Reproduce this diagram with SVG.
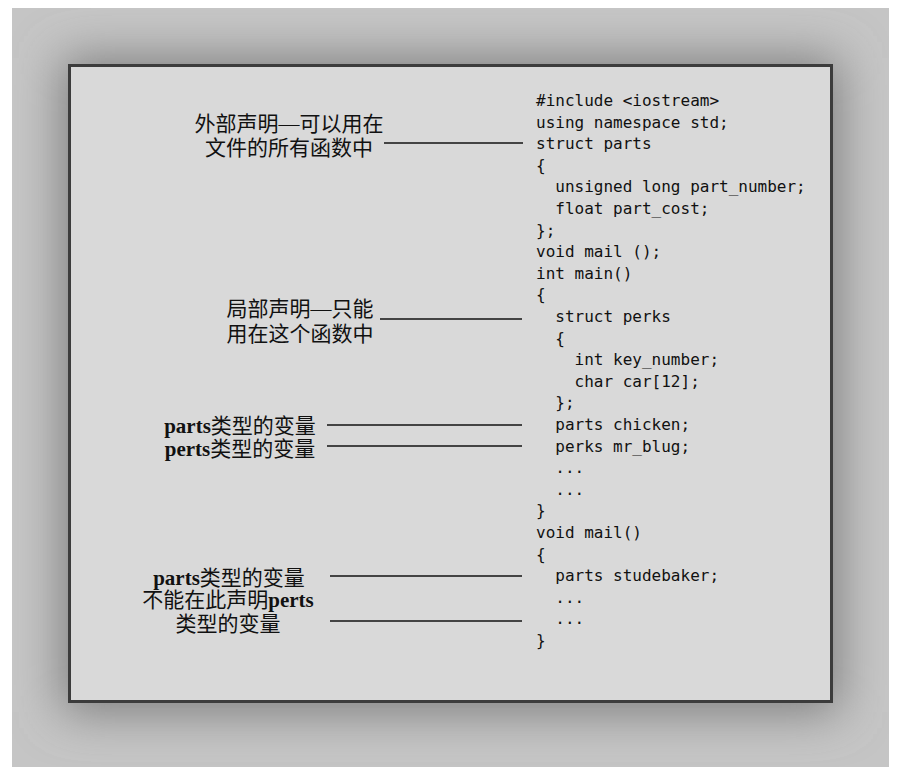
<svg xmlns="http://www.w3.org/2000/svg" width="904" height="778" viewBox="0 0 904 778">
<defs>
<filter id="blur" x="-20%" y="-20%" width="140%" height="140%">
<feGaussianBlur stdDeviation="24"/>
</filter>
<clipPath id="frameClip"><rect x="12" y="8" width="877" height="759"/></clipPath>
<style>
.code{font-family:"DejaVu Sans Mono","Liberation Mono",monospace;font-size:16px;fill:#111;white-space:pre}
.lbl{font-family:"Liberation Serif","Noto Sans CJK SC",serif;font-size:21px;fill:#111;text-anchor:middle}
.lat{font-weight:bold}
.conn{stroke:#444;stroke-width:2;fill:none}
</style>
</defs>
<rect x="0" y="0" width="904" height="778" fill="#ffffff"/>
<g id="frame">
<rect x="12" y="8" width="877" height="759" fill="#c5c5c5"/>
<g clip-path="url(#frameClip)">
<rect x="62" y="58" width="777" height="654" fill="#7e7e7e" filter="url(#blur)"/>
</g>
<rect x="69.5" y="65.5" width="762" height="636" fill="#d9d9d9" stroke="#3c3c3c" stroke-width="3"/>
</g>
<g id="code">
<text class="code" x="536" y="106">#include &lt;iostream&gt;</text>
<text class="code" x="536" y="127.6">using namespace std;</text>
<text class="code" x="536" y="149.2">struct parts</text>
<text class="code" x="536" y="170.8">{</text>
<text class="code" x="536" y="192.4">  unsigned long part_number;</text>
<text class="code" x="536" y="214">  float part_cost;</text>
<text class="code" x="536" y="235.6">};</text>
<text class="code" x="536" y="257.2">void mail ();</text>
<text class="code" x="536" y="278.8">int main()</text>
<text class="code" x="536" y="300.4">{</text>
<text class="code" x="536" y="322">  struct perks</text>
<text class="code" x="536" y="343.6">  {</text>
<text class="code" x="536" y="365.2">    int key_number;</text>
<text class="code" x="536" y="386.8">    char car[12];</text>
<text class="code" x="536" y="408.4">  };</text>
<text class="code" x="536" y="430">  parts chicken;</text>
<text class="code" x="536" y="451.6">  perks mr_blug;</text>
<text class="code" x="536" y="473.2">  ...</text>
<text class="code" x="536" y="494.8">  ...</text>
<text class="code" x="536" y="516.4">}</text>
<text class="code" x="536" y="538">void mail()</text>
<text class="code" x="536" y="559.6">{</text>
<text class="code" x="536" y="581.2">  parts studebaker;</text>
<text class="code" x="536" y="602.8">  ...</text>
<text class="code" x="536" y="624.4">  ...</text>
<text class="code" x="536" y="646">}</text>
</g>
<g id="label-external">
<text class="lbl" x="289" y="131">外部声明—可以用在</text>
<text class="lbl" x="289" y="155">文件的所有函数中</text>
</g>
<g id="label-local">
<text class="lbl" x="300" y="316">局部声明—只能</text>
<text class="lbl" x="300" y="341">用在这个函数中</text>
</g>
<g id="label-parts-var">
<text class="lbl" x="240" y="433"><tspan class="lat">parts</tspan>类型的变量</text>
</g>
<g id="label-perts-var">
<text class="lbl" x="240" y="456"><tspan class="lat">perts</tspan>类型的变量</text>
</g>
<g id="label-mail">
<text class="lbl" x="229" y="585"><tspan class="lat">parts</tspan>类型的变量</text>
<text class="lbl" x="228" y="607">不能在此声明<tspan class="lat">perts</tspan></text>
<text class="lbl" x="228" y="631">类型的变量</text>
</g>
<g id="connectors">
<line class="conn" x1="384" y1="143" x2="523" y2="143"/>
<line class="conn" x1="380" y1="319" x2="522" y2="319"/>
<line class="conn" x1="327" y1="425" x2="522" y2="425"/>
<line class="conn" x1="327" y1="446" x2="522" y2="446"/>
<line class="conn" x1="330" y1="576" x2="522" y2="576"/>
<line class="conn" x1="330" y1="621" x2="522" y2="621"/>
</g>
</svg>
